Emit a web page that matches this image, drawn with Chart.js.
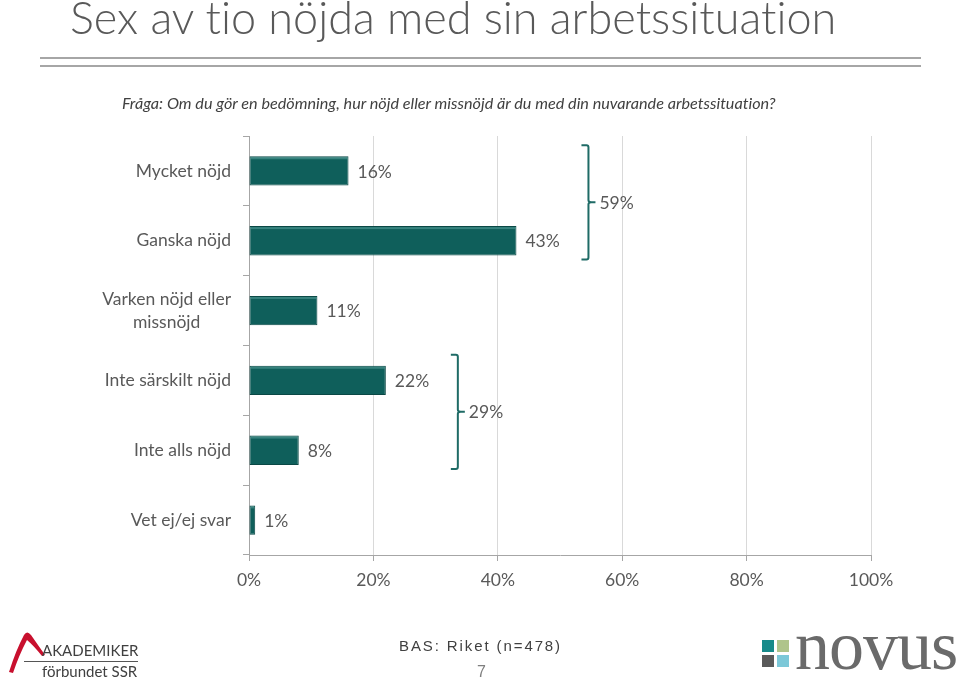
<!DOCTYPE html>
<html>
<head>
<meta charset="utf-8">
<script src="https://cdn.jsdelivr.net/npm/chart.js@4.4.0/dist/chart.umd.min.js"></script>
<style>
    body{margin:0;background:#fff;width:960px;height:682px;overflow:hidden;position:relative;font-family:Lato,sans-serif;font-variant-ligatures:none}
    #grafico{position:absolute;left:0;top:0}
    .abs{position:absolute;white-space:nowrap}
    #titulo{left:70px;top:-10px;font-size:45px;font-weight:300;color:#595959;font-variant-ligatures:none;font-feature-settings:"liga" 0}
    .linea{position:absolute;left:40px;width:881px;height:2px;background:#a6a6a6}
    #pregunta{left:122px;top:93px;font-size:16.2px;font-style:italic;color:#404040;font-feature-settings:"liga" 0}
    #akaTop{left:42px;top:641px;font-size:15px;color:#404040}
    #akaLine{position:absolute;left:24px;top:661px;width:114px;height:1px;background:#555}
    #akaBot{left:42px;top:662px;font-size:15px;color:#404040}
    #bas{left:399px;top:637px;font-family:"Liberation Sans",Arial,sans-serif;font-size:15px;letter-spacing:1.9px;color:#404040}
    #pagina{left:477px;top:663px;font-family:"Liberation Sans",Arial,sans-serif;font-size:16px;color:#7f7f7f}
    .sq{position:absolute;width:12px;height:12px}
    #novus{left:795px;top:606px;font-family:"Liberation Serif",serif;font-size:70px;color:#6a6a6a;letter-spacing:-1px}
</style>
</head>
<body>
<canvas id="grafico" width="960" height="682"></canvas>

<div id="titulo" class="abs">Sex av tio nöjda med sin arbetssituation</div>
<div class="linea" style="top:57px"></div>
<div class="linea" style="top:65px"></div>
<div id="pregunta" class="abs">Fråga: Om du gör en bedömning, hur nöjd eller missnöjd är du med din nuvarande arbetssituation?</div>

<svg class="abs" style="left:0;top:625px" width="50" height="55">
    <path d="M9,47 Q16,25 24,10 Q27,5 31,10 L45,30 L42,31 Q33,20 27,15 Q19,30 13,48 Z" fill="#c8102e"/>
</svg>
<div id="akaTop" class="abs">AKADEMIKER</div>
<div id="akaLine"></div>
<div id="akaBot" class="abs">förbundet SSR</div>

<div id="bas" class="abs">BAS: Riket (n=478)</div>
<div id="pagina" class="abs">7</div>

<div class="sq" style="left:762px;top:640px;background:#178a8a"></div>
<div class="sq" style="left:777px;top:640px;background:#afc48b"></div>
<div class="sq" style="left:762px;top:655px;background:#5a5a5a"></div>
<div class="sq" style="left:777px;top:655px;background:#7cc8d8"></div>
<div id="novus" class="abs">novus</div>

<script>
const categorias = ['Mycket nöjd', 'Ganska nöjd', ['Varken nöjd eller', 'missnöjd'], 'Inte särskilt nöjd', 'Inte alls nöjd', 'Vet ej/ej svar'];
const valores = [16, 43, 11, 22, 8, 1];
const ticksX = [0, 20, 40, 60, 80, 100];
const grupos = [[0, 1], [3, 4]];
const totalesGrupo = [59, 29];

const colorTexto = '#595959';
const colorBarra = '#0f5f5b';
const colorLlave = '#1f6b66';
const fuente = '17.5px Lato';

/* etiquetas del eje y (centradas cuando tienen dos lineas) */
const etiquetasY = {
    id: 'etiquetasY',
    afterDraw(chart){
        const { ctx, scales: { y } } = chart;
        ctx.save();
        ctx.font = fuente;
        ctx.fillStyle = colorTexto;
        ctx.textBaseline = 'middle';
        const derecha = y.right - 18;
        categorias.forEach((cat, i) => {
            const yc = y.getPixelForValue(i);
            const lineas = Array.isArray(cat) ? cat : [cat];
            const ancho = Math.max(...lineas.map(l => ctx.measureText(l).width));
            ctx.textAlign = 'center';
            lineas.forEach((l, j) => {
                const yy = yc + (j - (lineas.length - 1) / 2) * 23;
                ctx.fillText(l, derecha - ancho / 2, yy);
            });
        });
        ctx.restore();
    }
};

/* brillo arriba de cada barra, valores y llaves */
const extras = {
    id: 'extras',
    afterDatasetsDraw(chart){
        const { ctx } = chart;
        const meta = chart.getDatasetMeta(0);
        ctx.save();
        meta.data.forEach(bar => {
            const top = bar.y - bar.height / 2;
            ctx.fillStyle = 'rgba(90,160,155,0.55)';
            ctx.fillRect(bar.base + 1, top + 1, bar.x - bar.base - 2, 2);
        });

        ctx.font = fuente;
        ctx.fillStyle = colorTexto;
        ctx.textBaseline = 'middle';
        ctx.textAlign = 'left';
        meta.data.forEach((bar, i) => {
            ctx.fillText(valores[i] + '%', bar.x + 9, bar.y + 1);
        });

        grupos.forEach((g, k) => {
            const barras = meta.data.slice(g[0], g[1] + 1);
            const maxX = Math.max(...barras.map(b => b.x));
            const x = maxX + 72;
            const y1 = barras[0].y - barras[0].height / 2 - 11;
            const ult = barras[barras.length - 1];
            const y2 = ult.y + ult.height / 2 + 4;
            const ym = (y1 + y2) / 2;
            ctx.strokeStyle = colorLlave;
            ctx.lineWidth = 2;
            ctx.beginPath();
            ctx.moveTo(x - 7, y1);
            ctx.lineTo(x - 2, y1);
            ctx.quadraticCurveTo(x, y1, x, y1 + 2);
            ctx.lineTo(x, ym - 2);
            ctx.quadraticCurveTo(x, ym, x + 3, ym);
            ctx.lineTo(x + 7, ym);
            ctx.moveTo(x + 3, ym);
            ctx.quadraticCurveTo(x, ym, x, ym + 2);
            ctx.lineTo(x, y2 - 2);
            ctx.quadraticCurveTo(x, y2, x - 2, y2);
            ctx.lineTo(x - 7, y2);
            ctx.stroke();
            ctx.fillText(totalesGrupo[k] + '%', x + 11, ym + 1);
        });
        ctx.restore();
    }
};

const ctx = document.getElementById('grafico').getContext('2d');

new Chart(ctx, {
    type: 'bar',
    data: {
        labels: categorias,
        datasets: [{
            data: valores,
            backgroundColor: colorBarra,
            borderColor: '#0a4845',
            borderWidth: 1,
            borderSkipped: false,
            categoryPercentage: 1,
            barPercentage: 0.42
        }]
    },
    options: {
        indexAxis: 'y',
        responsive: false,
        animation: false,
        layout: { padding: { left: 0, right: 89, top: 136, bottom: 87 } },
        plugins: {
            legend: { display: false },
            tooltip: { enabled: false }
        },
        scales: {
            x: {
                min: 0,
                max: 100,
                afterBuildTicks(s){ s.ticks = ticksX.map(v => ({ value: v })); },
                afterFit(s){ s.height = 40; },
                ticks: {
                    callback: v => v + '%',
                    color: colorTexto,
                    font: { family: 'Lato', size: 17.5 },
                    padding: 9,
                    maxRotation: 0
                },
                grid: { color: '#d9d9d9', tickColor: '#a6a6a6', tickLength: 6 },
                border: { color: '#a6a6a6' }
            },
            y: {
                afterFit(s){ s.width = 249; },
                ticks: { display: false },
                grid: { offset: true, drawOnChartArea: false, tickLength: 6, color: '#a6a6a6' },
                border: { color: '#a6a6a6' }
            }
        }
    },
    plugins: [etiquetasY, extras]
});
</script>
</body>
</html>
